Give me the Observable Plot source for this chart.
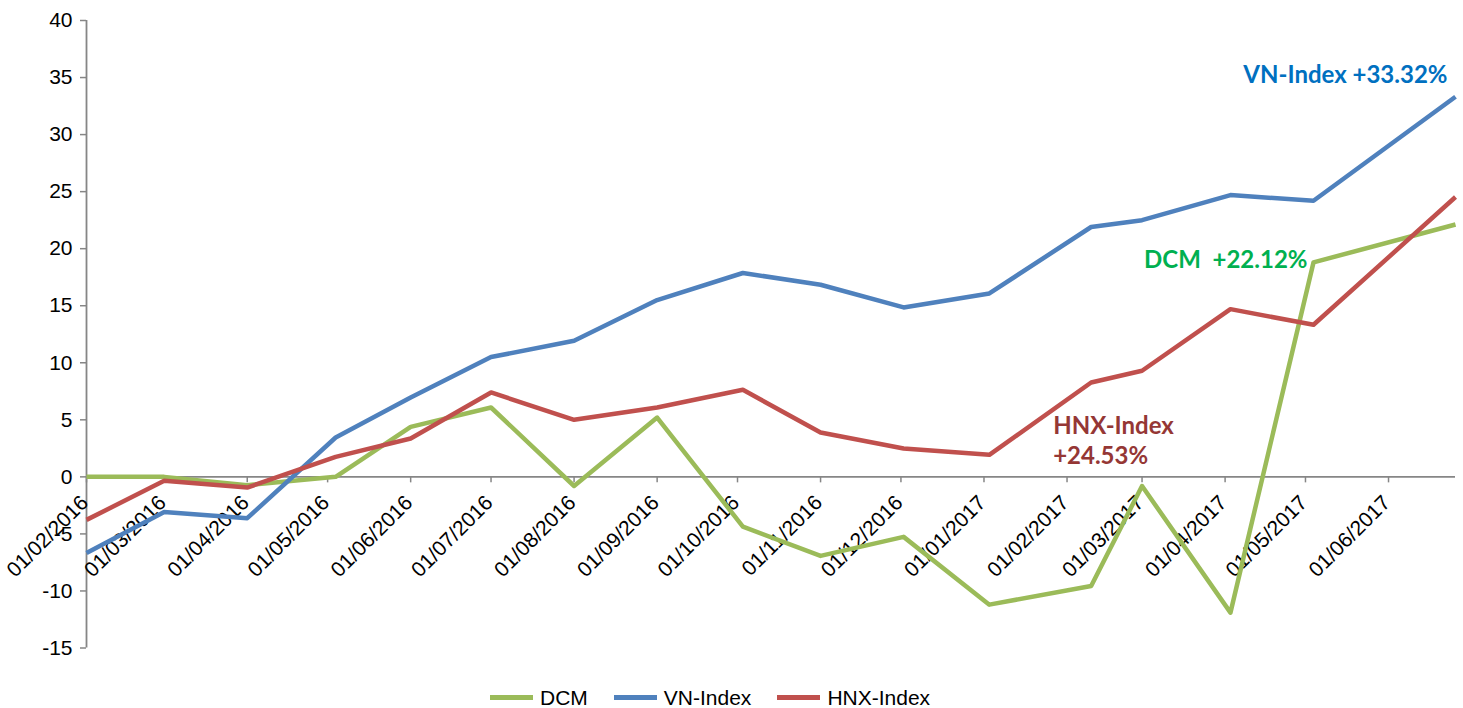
<!DOCTYPE html>
<html>
<head>
<meta charset="utf-8">
<script src="https://cdn.jsdelivr.net/npm/d3@7"></script>
<script src="https://cdn.jsdelivr.net/npm/@observablehq/plot@0.6"></script>
<style>
  html, body { margin: 0; padding: 0; background: #fff; }
  #wrap { position: relative; width: 1463px; height: 708px; overflow: hidden; background: #fff; }
  #legend { position: absolute; left: 490px; top: 687px; height: 21px; line-height: 21px; display: flex; align-items: center;
            font-family: "Liberation Sans", Arial, sans-serif; font-size: 21px; color: #000; }
  .item { display: flex; align-items: center; margin-right: 26px; height: 21px; line-height: 21px; }
  .sw { width: 43px; height: 5px; margin-right: 7px; }
</style>
</head>
<body>
<div id="wrap"><div id="chart"></div><div id="legend"></div></div>
<script>
// ---- data ----
const dates = ["01/02/2016","01/03/2016","01/04/2016","04/05/2016","01/06/2016","01/07/2016","01/08/2016","01/09/2016","03/10/2016","01/11/2016","02/12/2016","03/01/2017","10/02/2017","01/03/2017","03/04/2017","04/05/2017","26/06/2017"];
const dcm = [0, 0, -0.73, 0, 4.38, 6.08, -0.8, 5.2, -4.36, -6.93, -5.26, -11.2, -9.56, -0.8, -11.9, 18.8, 22.12];
const vnIndex = [-6.67, -3.07, -3.62, 3.45, 6.96, 10.5, 11.93, 15.5, 17.87, 16.84, 14.85, 16.08, 21.9, 22.5, 24.7, 24.2, 33.32];
const hnxIndex = [-3.77, -0.35, -0.94, 1.75, 3.36, 7.4, 5.0, 6.08, 7.63, 3.89, 2.48, 1.93, 8.27, 9.3, 14.7, 13.33, 24.53];
const seriesNames = ["DCM", "VN-Index", "HNX-Index"];
const seriesColors = ["#9BBB59", "#4F81BD", "#C0504D"];
const xTickLabels = ["01/02/2016","01/03/2016","01/04/2016","01/05/2016","01/06/2016","01/07/2016","01/08/2016","01/09/2016","01/10/2016","01/11/2016","01/12/2016","01/01/2017","01/02/2017","01/03/2017","01/04/2017","01/05/2017","01/06/2017"];
const yTicks = [-15, -10, -5, 0, 5, 10, 15, 20, 25, 30, 35, 40];
const annotations = ["VN-Index +33.32%", "DCM\u00a0 +22.12%", "HNX-Index\n+24.53%"];
const annotationColors = ["#0070C0", "#00B050", "#953735"];

// ---- build ----
const parse = d3.utcParse("%d/%m/%Y");
const D = dates.map(parse);
const seriesValues = [dcm, vnIndex, hnxIndex];
const rows = seriesNames.flatMap((s, k) => D.map((d, i) => ({series: s, date: d, value: seriesValues[k][i]})));
const tickDates = xTickLabels.map(parse);
const last = D.length - 1;

// annotation anchors (attached to series points)
const notes = [
  {text: annotations[0], date: D[last], value: vnIndex[last], color: annotationColors[0]},
  {text: annotations[1], date: D[15], value: dcm[15], color: annotationColors[1]},
  {text: annotations[2], date: D[12], value: hnxIndex[12], color: annotationColors[2]}
];

const gray = "#868686";
const noteFont = "Lato, 'Open Sans', sans-serif";
const chart = Plot.plot({
  width: 1463,
  height: 685,
  marginLeft: 86,
  marginRight: 8,
  marginTop: 20,
  marginBottom: 37.5,
  x: {type: "utc", domain: [D[0], D[last]], axis: null},
  y: {domain: [-15, 40], axis: null},
  color: {domain: seriesNames, range: seriesColors},
  style: {fontFamily: "'Liberation Sans', Arial, sans-serif", fontSize: "21px", background: "white", overflow: "visible"},
  marks: [
    Plot.axisY({ticks: yTicks, tickFormat: d => String(d), tickSize: 6, tickPadding: 8, stroke: gray, fill: "black", strokeWidth: 1.5, label: null, fontSize: 21}),
    Plot.ruleX([D[0]], {y1: -15, y2: 40, stroke: gray, strokeWidth: 1.8}),
    Plot.ruleY([0], {stroke: gray, strokeWidth: 1.8}),
    Plot.ruleX(tickDates, {x: d => d, y1: 0, y2: 0, insetBottom: -6, stroke: gray, strokeWidth: 1.5}),
    Plot.text(tickDates, {x: d => d, y: 0, text: (d, i) => xTickLabels[i], rotate: -45, textAnchor: "end", lineAnchor: "bottom", dx: 3, dy: 27, fontSize: 21, fill: "black"}),
    Plot.line(rows, {x: "date", y: "value", z: "series", stroke: "series", strokeWidth: 4.5, strokeLinejoin: "round", strokeLinecap: "butt"}),
    Plot.text([notes[0]], {x: "date", y: "value", text: "text", fill: "color", textAnchor: "end", lineAnchor: "bottom", dx: -8, dy: -14, fontFamily: noteFont, fontWeight: "bold", fontSize: 24}),
    Plot.text([notes[1]], {x: "date", y: "value", text: "text", fill: "color", textAnchor: "end", lineAnchor: "bottom", dx: -6, dy: 6, fontFamily: noteFont, fontWeight: "bold", fontSize: 24}),
    Plot.text([notes[2]], {x: "date", y: "value", text: "text", fill: "color", textAnchor: "start", lineAnchor: "bottom", lineHeight: 1.25, dx: -38, dy: 81, fontFamily: noteFont, fontWeight: "bold", fontSize: 24})
  ]
});
document.getElementById("chart").appendChild(chart);

const legend = document.getElementById("legend");
seriesNames.forEach((s, k) => {
  const it = document.createElement("div");
  it.className = "item";
  const sw = document.createElement("div");
  sw.className = "sw";
  sw.style.background = seriesColors[k];
  const tx = document.createElement("span");
  tx.textContent = s;
  it.appendChild(sw); it.appendChild(tx);
  legend.appendChild(it);
});
</script>
</body>
</html>
